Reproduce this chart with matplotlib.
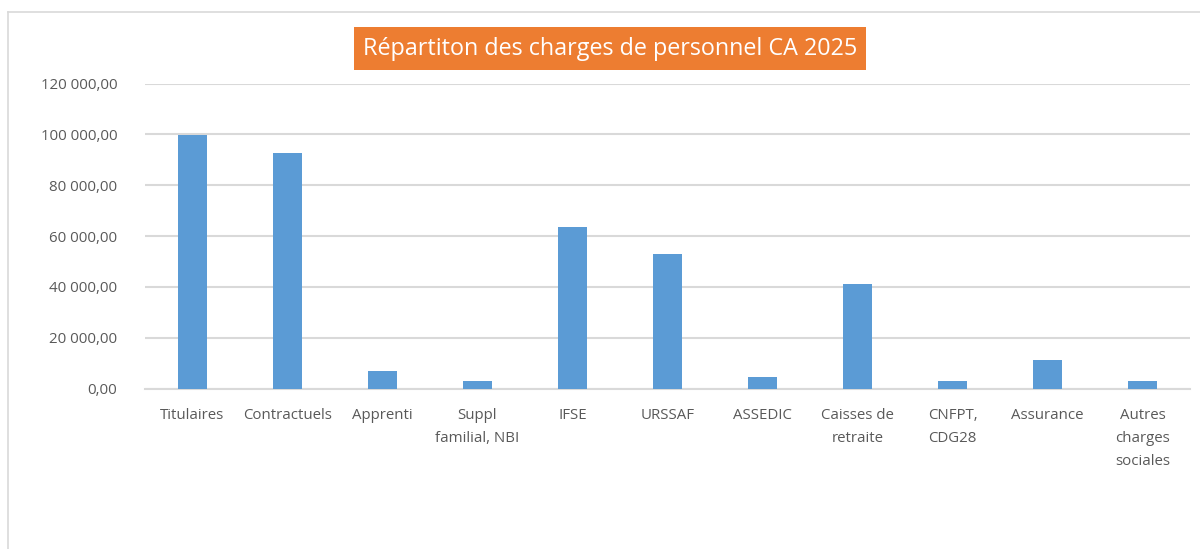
import matplotlib.pyplot as plt
from matplotlib.patches import Rectangle
from matplotlib.lines import Line2D
from matplotlib.ticker import FuncFormatter

# Data
categories = ['Titulaires', 'Contractuels', 'Apprenti', 'Suppl\nfamilial, NBI', 'IFSE',
              'URSSAF', 'ASSEDIC', 'Caisses de\nretraite', 'CNFPT,\nCDG28', 'Assurance',
              'Autres\ncharges\nsociales']
values = [99800, 92500, 6900, 2850, 63650, 52800, 4700, 41050, 3150, 11200, 3150]
y_ticks = [0, 20000, 40000, 60000, 80000, 100000, 120000]

plt.rcParams['font.family'] = ['Open Sans', 'DejaVu Sans']

fig = plt.figure(figsize=(12, 5.49), dpi=100)
ax = fig.add_axes([0.1208, 0.2923, 0.8709, 0.5556])

# Bars
ax.bar(range(len(categories)), values, width=0.31, color='#5B9BD5', zorder=3)

ax.set_xlim(-0.5, len(categories) - 0.5)
ax.set_ylim(0, 120000)
ax.set_yticks(y_ticks)

# French number format: 120 000,00
ax.yaxis.set_major_formatter(FuncFormatter(
    lambda v, p: f"{v:,.2f}".replace(',', ' ').replace('.', ',')))

ax.set_xticks(range(len(categories)))
ax.set_xticklabels(categories, linespacing=1.75)

ax.tick_params(axis='both', length=0, labelsize=10.8, colors='#595959')
ax.tick_params(axis='y', pad=20)
ax.tick_params(axis='x', pad=14)

ax.grid(axis='y', color='#d9d9d9', linewidth=1.5, zorder=0)
for s in ['top', 'right', 'left']:
    ax.spines[s].set_visible(False)
ax.spines['bottom'].set_color('#d9d9d9')
ax.spines['bottom'].set_linewidth(1.5)

# Chart frame (light gray, left and top edges)
fig.add_artist(Line2D([8 / 1200, 8 / 1200], [0, 1 - 12 / 549],
                      transform=fig.transFigure, color='#d9d9d9', linewidth=1.2))
fig.add_artist(Line2D([8 / 1200, 1], [1 - 12 / 549, 1 - 12 / 549],
                      transform=fig.transFigure, color='#d9d9d9', linewidth=1.2))

# Title in orange box
fig.add_artist(Rectangle((354 / 1200, 1 - 70 / 549), 512 / 1200, 43 / 549,
                         transform=fig.transFigure, facecolor='#ED7D31', edgecolor='none'))
fig.text(610 / 1200, 1 - 48.5 / 549, 'Répartiton des charges de personnel CA 2025',
         ha='center', va='center', color='white', fontsize=16.8)

plt.savefig('out.png', dpi=100)
